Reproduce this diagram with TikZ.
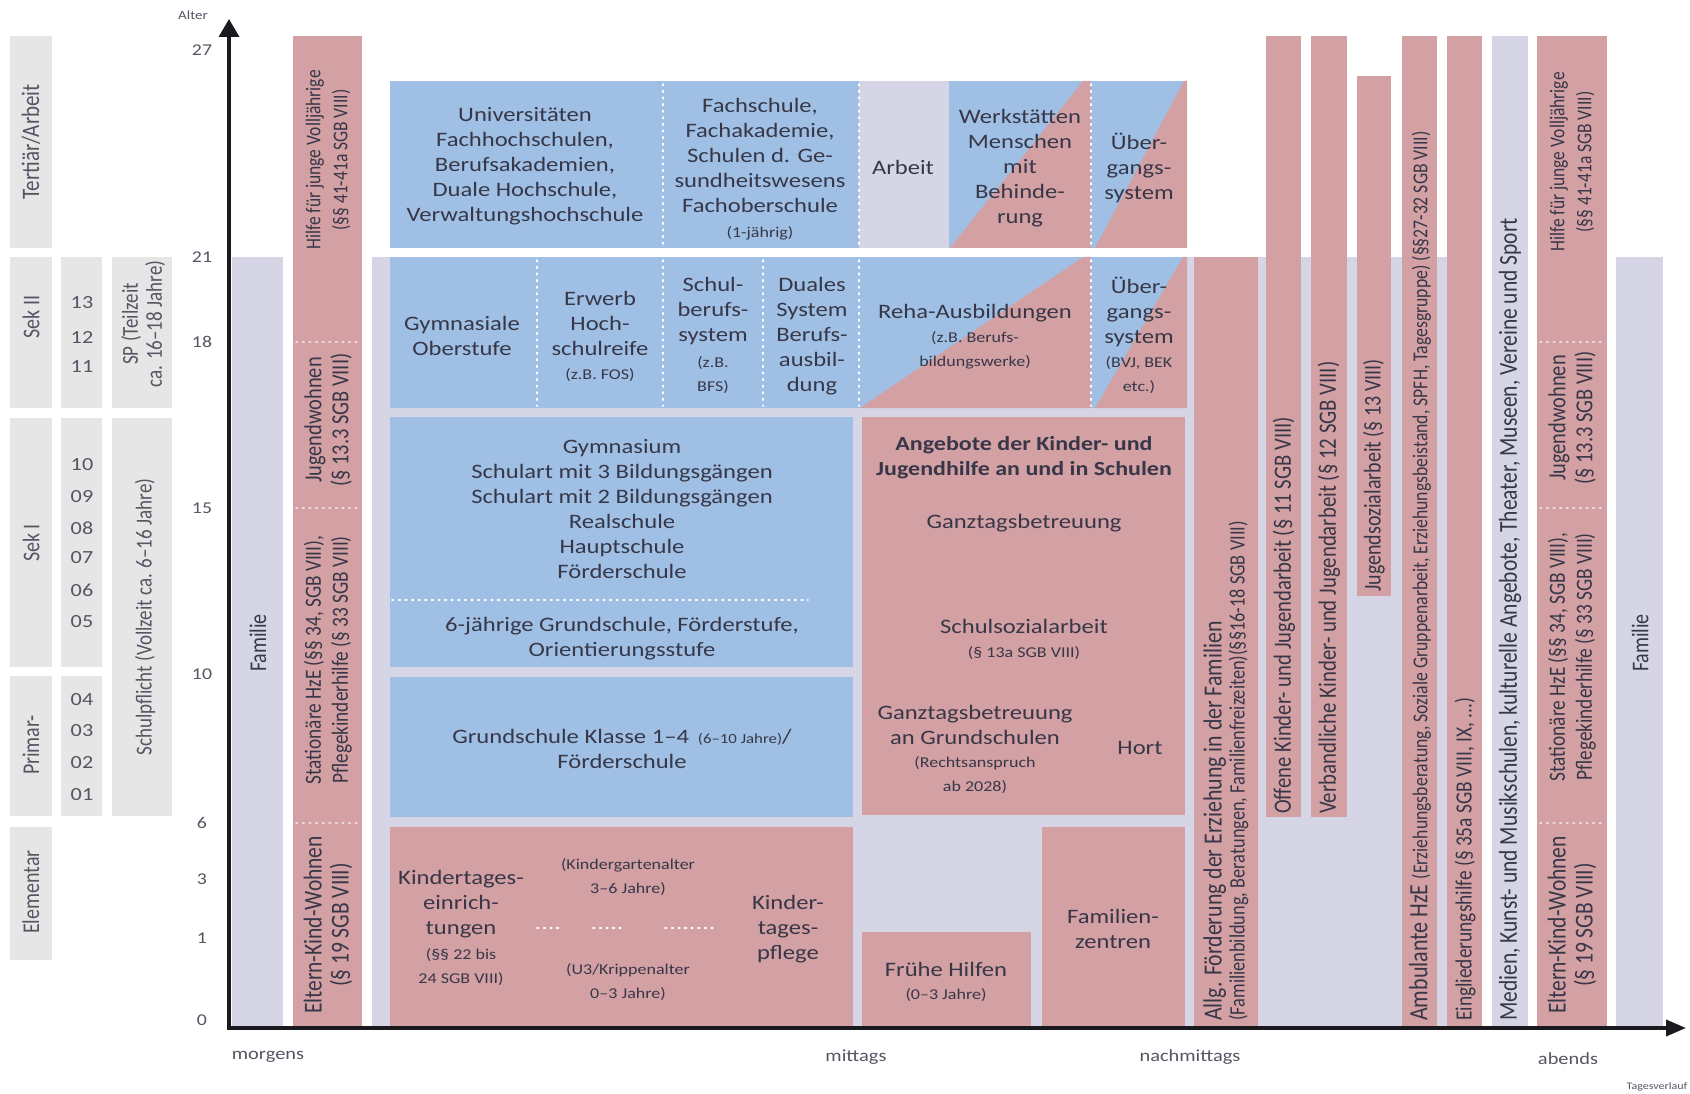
\documentclass[tikz,border=0pt]{standalone}
\usepackage{fontspec}
\usepackage{graphicx}
\setmainfont{Carlito}[FakeStretch=1.2]
\newfontfamily\rotfont{Carlito}
\usetikzlibrary{arrows.meta}
\definecolor{cblue}{RGB}{159,192,228}
\definecolor{cpink}{RGB}{211,160,164}
\definecolor{clav}{RGB}{214,213,230}
\definecolor{cgray}{RGB}{230,230,230}
\definecolor{ctext}{RGB}{55,55,72}
\definecolor{caxis}{RGB}{25,25,30}
\newcommand\vst[1]{\scalebox{1}[1.2]{#1}}
\newcommand\fs[2]{\fontsize{#1}{#2}\selectfont}
\begin{document}
\begin{tikzpicture}[x=1pt,y=-1pt,
  blu/.style={fill=cblue}, pnk/.style={fill=cpink}, lav/.style={fill=clav}, gry/.style={fill=cgray},
  txt/.style={text=ctext, align=center, inner sep=0pt, font=\fs{20.5}{25}},
  sml/.style={text=ctext, align=center, inner sep=0pt, font=\fs{15}{24}},
  num/.style={text=ctext!85, inner sep=0pt, font=\fs{18.5}{22}},
  anum/.style={text=ctext!85, inner sep=0pt, font=\fs{16.5}{20}},
  lbl/.style={text=ctext!85, inner sep=0pt, font=\fs{17}{20}},
  rtxt/.style={text=ctext, align=center, inner sep=0pt, rotate=90, font=\rotfont\fs{18.5}{27}},
  wdot/.style={white, line width=1.6pt, dash pattern=on 1.6pt off 5pt, line cap=round},
  axisln/.style={draw=caxis, line width=3.5pt, line join=miter}
]
\useasboundingbox[fill=white] (0,0) rectangle (1690,1094);

% ---------- left label columns ----------
\fill[gry] (10,36) rectangle (52,248);
\fill[gry] (10,257) rectangle (52,408);
\fill[gry] (10,418) rectangle (52,667);
\fill[gry] (10,676) rectangle (52,816);
\fill[gry] (10,827) rectangle (52,960);
\fill[gry] (61,257) rectangle (102,408);
\fill[gry] (61,418) rectangle (102,667);
\fill[gry] (61,676) rectangle (102,816);
\fill[gry] (112,257) rectangle (172,408);
\fill[gry] (112,418) rectangle (172,816);

\node[rtxt, font=\rotfont\fs{21}{24}, text=ctext!85] (tert) at (31,142) {\vst{Tertiär/Arbeit}};
\node[rtxt, font=\rotfont\fs{20}{24}, text=ctext!85] (sek2) at (31,317) {\vst{Sek II}};
\node[rtxt, font=\rotfont\fs{20}{24}, text=ctext!85] (sek1) at (31,543) {\vst{Sek I}};
\node[rtxt, font=\rotfont\fs{20}{24}, text=ctext!85] (prim) at (31,745) {\vst{Primar-}};
\node[rtxt, font=\rotfont\fs{20}{24}, text=ctext!85] (elem) at (31,892) {\vst{Elementar}};
\node[rtxt, font=\rotfont\fs{19}{24}, text=ctext!85] (sp) at (143,324) {\vst{SP (Teilzeit}\\\vst{ca. 16–18 Jahre)}};
\node[rtxt, font=\rotfont\fs{19}{24}, text=ctext!85] (spfl) at (145,617) {\vst{Schulpflicht (Vollzeit ca. 6–16 Jahre)}};

\foreach \n/\yy in {13/303,12/337,11/367,10/465,09/497,08/528,07/558,06/590,05/622,04/700,03/731,02/763,01/795}
  \node[num] (g\n) at (82,\yy) {\n};
\foreach \a/\yy in {27/50,21/257,18/342,15/508,10/674,6/823,3/879,1/938,0/1020}
  \node[anum] (a\a) at (202,\yy) {\a};

% ---------- backgrounds ----------
\fill[lav] (372,257) rectangle (1447,1027);
\fill[lav] (232,257) rectangle (283,1027);
\fill[pnk] (293,36) rectangle (362,1027);

% ---------- row 1 ----------
\fill[blu] (390,81) rectangle (859,248);
\fill[lav] (859,81) rectangle (949,248);
\fill[blu] (949,81) rectangle (1091,248);
\fill[pnk] (950,248) -- (1083,81) -- (1091,81) -- (1091,248) -- cycle;
\fill[blu] (1091,81) rectangle (1187,248);
\fill[pnk] (1095,248) -- (1184,81) -- (1187,81) -- (1187,248) -- cycle;
% ---------- row 2 ----------
\fill[blu] (390,257) rectangle (1187,408);
\fill[pnk] (860,408) -- (1083,257) -- (1091,257) -- (1091,408) -- cycle;
\fill[pnk] (1095,408) -- (1183,257) -- (1187,257) -- (1187,408) -- cycle;
% ---------- row 3 ----------
\fill[blu] (390,417) rectangle (853,667);
\fill[blu] (390,677) rectangle (853,817);
\fill[pnk] (862,417) rectangle (1185,815);
% ---------- row 4 ----------
\fill[pnk] (390,827) rectangle (853,1027);
\fill[pnk] (862,932) rectangle (1031,1027);
\fill[pnk] (1042,827) rectangle (1185,1027);
% ---------- right columns ----------
\fill[pnk] (1194,257) rectangle (1258,1027);
\fill[pnk] (1266,36) rectangle (1301,817);
\fill[pnk] (1311,36) rectangle (1347,817);
\fill[pnk] (1357,76) rectangle (1391,596);
\fill[pnk] (1402,36) rectangle (1437,1027);
\fill[pnk] (1447,36) rectangle (1482,1027);
\fill[lav] (1492,36) rectangle (1528,1027);
\fill[pnk] (1537,36) rectangle (1607,1027);
\fill[lav] (1616,257) rectangle (1663,1027);

% ---------- dotted separators ----------
\foreach \xx in {663,859,1091} \draw[wdot] (\xx,84) -- (\xx,246);
\foreach \xx in {537,663,763,859,1091} \draw[wdot] (\xx,260) -- (\xx,406);
\draw[wdot] (392,600) -- (808,600);
\draw[wdot] (537,928) -- (562,928);
\draw[wdot] (593,928) -- (624,928);
\draw[wdot] (665,928) -- (716,928);
\foreach \yy in {342,508,823} {
  \draw[wdot, opacity=.6] (296,\yy) -- (360,\yy);
  \draw[wdot, opacity=.6] (1540,\yy) -- (1605,\yy);
}

% ---------- axes ----------
\coordinate (ytop) at (229,19);
\coordinate (O) at (229,1028);
\coordinate (xend) at (1686,1028);
\draw[axisln, {Triangle[length=18pt,width=20pt]}-{Triangle[length=20pt,width=16pt]}] (ytop) -- (O) -- (xend);
\node[lbl, font=\fs{12.5}{14}] (alter) at (193,15) {Alter};
\node[lbl] (morg) at (268,1057) {morgens};
\node[lbl] (mitt) at (856,1057) {mittags};
\node[lbl] (nach) at (1190,1057) {nachmittags};
\node[lbl] (abnd) at (1568,1059) {abends};
\node[lbl, font=\fs{10}{12}] (tagv) at (1657,1087) {Tagesverlauf};

% ---------- row 1 texts ----------
\node[txt] (uni) at (525,166) {Universitäten\\Fachhochschulen,\\Berufsakademien,\\Duale Hochschule,\\Verwaltungshochschule};
\node[txt] (fach) at (760,155) {Fachschule,\\Fachakademie,\\Schulen d. Ge-\\sundheitswesens\\Fachoberschule};
\node[sml] (fach2) at (760,233) {(1-jährig)};
\node[txt] (arb) at (903,167) {Arbeit};
\node[txt] (werk) at (1020,168) {Werkstätten\\Menschen\\mit\\Behinde-\\rung};
\node[txt] (ueb1) at (1139,168) {Über-\\gangs-\\system};

% ---------- row 2 texts ----------
\node[txt] (gymo) at (462,336) {Gymnasiale\\Oberstufe};
\node[txt] (erw) at (600,323) {Erwerb\\Hoch-\\schulreife};
\node[sml] (erw2) at (600,375) {(z.B. FOS)};
\node[txt] (sbs) at (713,311) {Schul-\\berufs-\\system};
\node[sml] (sbs2) at (713,375) {(z.B.\\BFS)};
\node[txt] (dual) at (812,336) {Duales\\System\\Berufs-\\ausbil-\\dung};
\node[txt] (reha) at (975,313) {Reha-Ausbildungen};
\node[sml] (reha2) at (975,350) {(z.B. Berufs-\\bildungswerke)};
\node[txt] (ueb2) at (1139,312) {Über-\\gangs-\\system};
\node[sml] (ueb3) at (1139,375) {(BVJ, BEK\\etc.)};

% ---------- row 3 texts ----------
\node[txt] (gym) at (622,509) {Gymnasium\\Schulart mit 3 Bildungsgängen\\Schulart mit 2 Bildungsgängen\\Realschule\\Hauptschule\\Förderschule};
\node[txt] (sechs) at (622,639) {6-jährige Grundschule, Förderstufe,\\Orientierungsstufe};
\node[txt] (grund) at (622,749) {Grundschule Klasse 1–4 \,{\fs{14}{25}(6–10 Jahre)}/\\Förderschule};
\node[txt, font=\bfseries\fs{20}{25}] (ang) at (1024,458) {Angebote der Kinder- und\\Jugendhilfe an und in Schulen};
\node[txt] (gtb) at (1024,523) {Ganztagsbetreuung};
\node[txt] (ssa) at (1024,626) {Schulsozialarbeit};
\node[sml] (ssa2) at (1024,653) {(§ 13a SGB VIII)};
\node[txt] (gtg) at (975,725) {Ganztagsbetreuung\\an Grundschulen};
\node[sml] (gtg2) at (975,775) {(Rechtsanspruch\\ab 2028)};
\node[txt] (hort) at (1140,748) {Hort};

% ---------- row 4 texts ----------
\node[txt] (kita) at (461,904) {Kindertages-\\einrich-\\tungen};
\node[sml] (kita2) at (461,967) {(§§ 22 bis\\24 SGB VIII)};
\node[sml] (kga) at (628,877) {(Kindergartenalter\\3–6 Jahre)};
\node[sml] (u3) at (628,982) {(U3/Krippenalter\\0–3 Jahre)};
\node[txt] (ktp) at (788,929) {Kinder-\\tages-\\pflege};
\node[txt] (fh) at (946,969) {Frühe Hilfen};
\node[sml] (fh2) at (946,995) {(0–3 Jahre)};
\node[txt] (fz) at (1113,929) {Familien-\\zentren};

% ---------- rotated column texts ----------
\node[rtxt, font=\rotfont\fs{20}{24}] (fam1) at (258,643) {\vst{Familie}};
\node[rtxt, font=\rotfont\fs{20}{24}] (fam2) at (1640,643) {\vst{Familie}};

\node[rtxt, font=\rotfont\fs{17.5}{27}] (lh) at (328,160) {\vst{Hilfe für junge Volljährige}\\\vst{(§§ 41-41a SGB VIII)}};
\node[rtxt, font=\rotfont\fs{20.4}{27}] (lj) at (328,420) {\vst{Jugendwohnen}\\\vst{(§ 13.3 SGB VIII)}};
\node[rtxt, font=\rotfont\fs{19.3}{27}] (ls) at (328,660) {\vst{Stationäre HzE (§§ 34, SGB VIII),}\\\vst{Pflegekinderhilfe (§ 33 SGB VIII)}};
\node[rtxt, font=\rotfont\fs{21.5}{27}] (le) at (328,925) {\vst{Eltern-Kind-Wohnen}\\\vst{(§ 19 SGB VIII)}};

\node[rtxt, font=\rotfont\fs{17.5}{27}] (rh) at (1572,162) {\vst{Hilfe für junge Volljährige}\\\vst{(§§ 41-41a SGB VIII)}};
\node[rtxt, font=\rotfont\fs{20.4}{27}] (rj) at (1572,418) {\vst{Jugendwohnen}\\\vst{(§ 13.3 SGB VIII)}};
\node[rtxt, font=\rotfont\fs{19.3}{27}] (rs) at (1572,657) {\vst{Stationäre HzE (§§ 34, SGB VIII),}\\\vst{Pflegekinderhilfe (§ 33 SGB VIII)}};
\node[rtxt, font=\rotfont\fs{21.5}{27}] (re) at (1572,925) {\vst{Eltern-Kind-Wohnen}\\\vst{(§ 19 SGB VIII)}};

\node[rtxt, anchor=west, align=left, font=\rotfont\fs{21.8}{23}] (allg) at (1226,1021)
  {\vst{Allg. Förderung der Erziehung in der Familien}\\\vst{\fs{18.3}{23}(Familienbildung, Beratungen, Familienfreizeiten)(§§16-18 SGB VIII)}};
\node[rtxt, anchor=west, font=\rotfont\fs{20.7}{22}] (offen) at (1284,814) {\vst{Offene Kinder- und Jugendarbeit (§ 11 SGB VIII)}};
\node[rtxt, anchor=west, font=\rotfont\fs{20.8}{22}] (verb) at (1329,814) {\vst{Verbandliche Kinder- und Jugendarbeit (§ 12 SGB VIII)}};
\node[rtxt, anchor=west, font=\rotfont\fs{20}{22}] (jsa) at (1374,592) {\vst{Jugendsozialarbeit (§ 13 VIII)}};
\node[rtxt, anchor=west, font=\rotfont\fs{22}{22}] (amb) at (1420,1021) {\vst{Ambulante HzE {\fs{17.7}{22}(Erziehungsberatung, Soziale Gruppenarbeit, Erziehungsbeistand, SPFH, Tagesgruppe) (§§27-32 SGB VIII)}}};
\node[rtxt, anchor=west, font=\rotfont\fs{19.4}{22}] (ein) at (1465,1021) {\vst{Eingliederungshilfe (§ 35a SGB VIII, IX, ...)}};
\node[rtxt, anchor=west, font=\rotfont\fs{21.5}{22}] (med) at (1510,1021) {\vst{Medien, Kunst- und Musikschulen, kulturelle Angebote, Theater, Museen, Vereine und Sport}};
\end{tikzpicture}
\end{document}
